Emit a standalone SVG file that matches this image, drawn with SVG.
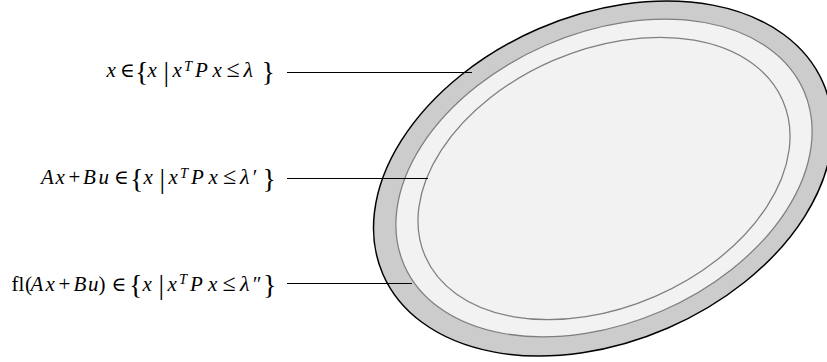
<svg xmlns="http://www.w3.org/2000/svg" width="827" height="362" viewBox="0 0 827 362">
<style>
  text { font-family: "Liberation Serif", "Times New Roman", serif; font-size: 21px; fill: #000; }
  .i { font-style: italic; }
  .br { font-size: 28px; font-style: normal; }
  .sup { font-size: 14.5px; font-style: italic; }
  .in { font-family: "DejaVu Serif", serif; font-size: 20px; }
  .le { font-size: 24px; }
  .lam { font-size: 22px; font-style: italic; }
  .set { stroke: #7f7f7f; stroke-width: 1.25; fill: #f2f2f2; }
  .leader { stroke: #000; stroke-width: 1; fill: none; }
</style>
<rect width="827" height="362" fill="#fff"/>
<g id="set-lambda">
  <ellipse cx="603" cy="178.5" rx="240" ry="163" transform="rotate(-23.5 603 178.5)" fill="#cccccc" stroke="#000" stroke-width="1.5"/>
</g>
<g id="set-lambda-double-prime">
  <ellipse class="set" cx="604" cy="178" rx="218" ry="145" transform="rotate(-23.5 604 178)"/>
</g>
<g id="set-lambda-prime">
  <ellipse class="set" cx="604" cy="178.5" rx="195" ry="128.5" transform="rotate(-23.5 604 178.5)"/>
</g>
<g id="connectors">
  <line class="leader" x1="287" y1="72.5" x2="472" y2="72.5"/>
  <line class="leader" x1="287" y1="178.5" x2="428" y2="178.5"/>
  <line class="leader" x1="287" y1="283.5" x2="412" y2="283.5"/>
</g>
<g id="label-1">
  <text y="77.3"><tspan class="i" x="106.5">x</tspan><tspan class="in" x="120">∈</tspan><tspan class="br" x="135" y="80.8">{</tspan><tspan class="i" x="147.5" y="77.3">x</tspan><tspan class="br" x="163.5" y="80.8">|</tspan><tspan class="i" x="172.5" y="77.3">x</tspan><tspan class="sup" x="184" y="70.5">T</tspan><tspan class="i" x="195" y="77.3">P</tspan><tspan class="i" x="212.5">x</tspan><tspan class="le" x="226.5">≤</tspan><tspan class="lam" x="243.5">λ</tspan><tspan class="br" x="261.5" y="80.8">}</tspan></text>
</g>
<g id="label-2">
  <text y="184.3"><tspan class="i" x="41">A</tspan><tspan class="i" x="55.5">x</tspan><tspan x="68.5">+</tspan><tspan class="i" x="83">B</tspan><tspan class="i" x="98.5">u</tspan><tspan class="in" x="114">∈</tspan><tspan class="br" x="130" y="187.8">{</tspan><tspan class="i" x="143.5" y="184.3">x</tspan><tspan class="br" x="159.5" y="187.8">|</tspan><tspan class="i" x="168.5" y="184.3">x</tspan><tspan class="sup" x="180" y="177.5">T</tspan><tspan class="i" x="191" y="184.3">P</tspan><tspan class="i" x="208.5">x</tspan><tspan class="le" x="223">≤</tspan><tspan class="lam" x="240">λ</tspan><tspan class="i" x="251.5">′</tspan><tspan class="br" x="262.5" y="187.8">}</tspan></text>
</g>
<g id="label-3">
  <text y="290.7"><tspan x="11.5">fl</tspan><tspan x="25">(</tspan><tspan class="i" x="30.5">A</tspan><tspan class="i" x="45.5">x</tspan><tspan x="58.5">+</tspan><tspan class="i" x="73.5">B</tspan><tspan class="i" x="88">u</tspan><tspan x="98.5">)</tspan><tspan class="in" x="111.5">∈</tspan><tspan class="br" x="129" y="294.2">{</tspan><tspan class="i" x="142.5" y="290.7">x</tspan><tspan class="br" x="158.5" y="294.2">|</tspan><tspan class="i" x="167.5" y="290.7">x</tspan><tspan class="sup" x="179" y="283.9">T</tspan><tspan class="i" x="190" y="290.7">P</tspan><tspan class="i" x="208">x</tspan><tspan class="le" x="222.5">≤</tspan><tspan class="lam" x="240">λ</tspan><tspan class="i" x="251.5">″</tspan><tspan class="br" x="263" y="294.2">}</tspan></text>
</g>
</svg>
